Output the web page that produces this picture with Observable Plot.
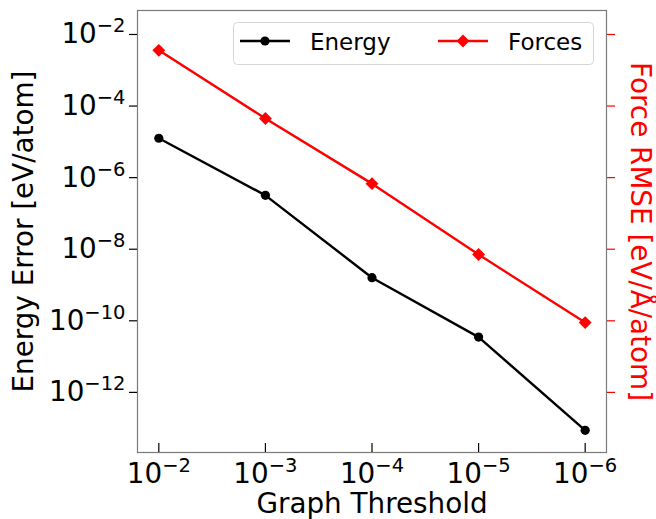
<!DOCTYPE html>
<html>
<head>
<meta charset="utf-8">
<script src="https://cdn.jsdelivr.net/npm/d3@7"></script>
<script src="https://cdn.jsdelivr.net/npm/@observablehq/plot@0.6"></script>
<style>
  html, body { margin: 0; padding: 0; background: white; }
  #wrap { position: relative; width: 656px; height: 519px; }
  #legend { position: absolute; left: 233px; top: 22px; }
</style>
</head>
<body>
<div id="wrap"></div>
<script>
// ---- data ----
const thresholds = [1e-2, 1e-3, 1e-4, 1e-5, 1e-6];
const energyError = [1.26e-5, 3.2e-7, 1.6e-9, 3.5e-11, 8.7e-14];
const forceRMSE = [3.6e-3, 4.5e-5, 6.8e-7, 7.1e-9, 8.9e-11];
const xTicks = [1e-2, 1e-3, 1e-4, 1e-5, 1e-6];
const yTicks = [1e-2, 1e-4, 1e-6, 1e-8, 1e-10, 1e-12];
const seriesNames = ["Energy", "Forces"];
const seriesColors = ["black", "red"];
const xLabel = "Graph Threshold";
const yLabel = "Energy Error [eV/atom]";
const y2Label = "Force RMSE [eV/Å/atom]";

const energyData = thresholds.map((t, i) => ({t, v: energyError[i]}));
const forceData = thresholds.map((t, i) => ({t, v: forceRMSE[i]}));

const fmt = d => "10^" + Math.round(Math.log10(d));
const FS = 27.8;

const chart = Plot.plot({
  width: 656,
  height: 519,
  marginLeft: 137,
  marginRight: 50,
  marginTop: 10,
  marginBottom: 67,
  style: {fontFamily: "DejaVu Sans", fontSize: FS + "px", background: "white", color: "black"},
  x: {type: "log", domain: [10 ** -1.8, 10 ** -6.2]},
  y: {type: "log", domain: [10 ** -13.68, 10 ** -1.33]},
  marks: [
    Plot.frame({stroke: "#7a7a7a", strokeWidth: 1.2}),
    Plot.axisY({ticks: yTicks, tickSize: 8, tickPadding: 4, tickFormat: fmt, label: null, color: "black", strokeWidth: 1.2}),
    Plot.axisY({anchor: "right", ticks: yTicks, tickSize: 8, tickFormat: () => "", label: null, color: "red", strokeWidth: 1.2}),
    Plot.axisX({ticks: xTicks, tickSize: 9, dy: -9, tickFormat: () => "", label: null, color: "black", strokeWidth: 1.2}),
    Plot.axisX({ticks: xTicks, tickSize: 0, tickPadding: 11, tickFormat: fmt, label: null, color: "black"}),
    Plot.line(energyData, {x: "t", y: "v", stroke: seriesColors[0], strokeWidth: 2.4}),
    Plot.dot(energyData, {x: "t", y: "v", fill: seriesColors[0], r: 4.6, symbol: "circle"}),
    Plot.line(forceData, {x: "t", y: "v", stroke: seriesColors[1], strokeWidth: 2.4}),
    Plot.dot(forceData, {x: "t", y: "v", fill: seriesColors[1], r: 5.8, symbol: "diamond2"}),
    Plot.text([xLabel], {frameAnchor: "bottom", text: d => d, dy: 52, textAnchor: "middle", lineAnchor: "middle", fontSize: FS, fill: "black"}),
    Plot.text([yLabel], {frameAnchor: "left", text: d => d, rotate: -90, dx: -113, textAnchor: "middle", lineAnchor: "middle", fontSize: FS, fill: "black"}),
    Plot.text([y2Label], {frameAnchor: "right", text: d => d, rotate: 90, dx: 33, textAnchor: "middle", lineAnchor: "middle", fontSize: FS, fill: "red"})
  ]
});

// Render exponents as superscripts
d3.select(chart).selectAll("text").each(function() {
  const el = d3.select(this);
  const txt = this.textContent;
  const m = /^10\^(-?\d+)$/.exec(txt);
  if (!m) return;
  const isY = this.getAttribute("text-anchor") === "end";
  this.textContent = "";
  el.append("tspan").attr("dy", isY ? 2 : 0).text("10");
  el.append("tspan").attr("dy", -11).attr("font-size", "19.5px").text(m[1].replace("-", "\u2212"));
});

const wrap = document.getElementById("wrap");
wrap.appendChild(chart);

// Legend
const lg = d3.create("svg").attr("id", "legend").attr("width", 362).attr("height", 44)
  .style("font-family", "DejaVu Sans");
lg.append("rect").attr("x", 0.5).attr("y", 0.5).attr("width", 360).attr("height", 42).attr("rx", 4)
  .attr("fill", "rgba(255,255,255,0.8)").attr("stroke", "#d6d6d6");
const items = [
  {name: seriesNames[0], color: seriesColors[0], x: 7, tx: 77, sym: d3.symbolCircle, size: Math.PI * 4.6 * 4.6},
  {name: seriesNames[1], color: seriesColors[1], x: 205, tx: 275, sym: d3.symbolDiamond2, size: Math.PI * 5.8 * 5.8}
];
for (const it of items) {
  lg.append("line").attr("x1", it.x).attr("x2", it.x + 50).attr("y1", 19).attr("y2", 19)
    .attr("stroke", it.color).attr("stroke-width", 2.4);
  lg.append("path").attr("transform", `translate(${it.x + 25},19)`)
    .attr("d", d3.symbol(it.sym, it.size)()).attr("fill", it.color);
  lg.append("text").attr("x", it.tx).attr("y", 28).attr("font-size", 23).attr("fill", "black").text(it.name);
}
wrap.appendChild(lg.node());
</script>
</body>
</html>
